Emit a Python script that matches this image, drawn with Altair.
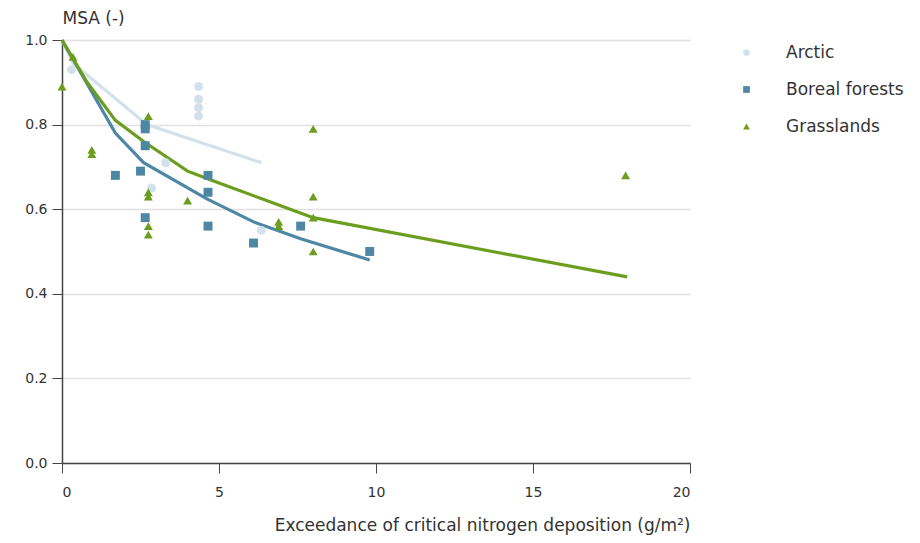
import altair as alt
import pandas as pd

series_names = ["Arctic", "Boreal forests", "Grasslands"]
series_colors = ["#d3e1ec", "#4d87a3", "#6b9e1e"]
series_shapes = ["circle", "square", "triangle-up"]

# scatter observations
arctic_x = [0.3, 4.35, 4.35, 4.35, 4.35, 3.3, 2.85, 6.35]
arctic_y = [0.93, 0.89, 0.86, 0.84, 0.82, 0.71, 0.65, 0.55]

boreal_x = [2.65, 2.65, 2.65, 1.7, 2.5, 2.65, 4.65, 4.65, 4.65, 6.1, 7.6, 9.8]
boreal_y = [0.80, 0.79, 0.75, 0.68, 0.69, 0.58, 0.68, 0.64, 0.56, 0.52, 0.56, 0.50]

grass_x = [0.0, 0.35, 0.95, 0.95, 2.75, 2.75, 2.75, 2.75, 2.75, 4.0, 6.9, 6.9, 8.0, 8.0, 8.0, 8.0, 17.95]
grass_y = [0.89, 0.96, 0.74, 0.73, 0.82, 0.64, 0.63, 0.56, 0.54, 0.62, 0.57, 0.56, 0.79, 0.63, 0.58, 0.50, 0.68]

# fitted curves
arctic_line_x = [0.0, 0.35, 2.7, 6.35]
arctic_line_y = [1.0, 0.945, 0.80, 0.71]

boreal_line_x = [0.0, 1.7, 2.6, 4.6, 6.1, 7.6, 9.8]
boreal_line_y = [1.0, 0.78, 0.71, 0.625, 0.57, 0.53, 0.48]

grass_line_x = [0.0, 0.8, 1.7, 2.6, 4.0, 4.7, 6.9, 8.0, 18.0]
grass_line_y = [1.0, 0.90, 0.81, 0.76, 0.69, 0.67, 0.61, 0.58, 0.44]

pts = pd.concat([
    pd.DataFrame({"x": arctic_x, "y": arctic_y, "s": series_names[0]}),
    pd.DataFrame({"x": boreal_x, "y": boreal_y, "s": series_names[1]}),
    pd.DataFrame({"x": grass_x, "y": grass_y, "s": series_names[2]}),
])
lines = pd.concat([
    pd.DataFrame({"x": arctic_line_x, "y": arctic_line_y, "s": series_names[0], "o": range(len(arctic_line_x))}),
    pd.DataFrame({"x": boreal_line_x, "y": boreal_line_y, "s": series_names[1], "o": range(len(boreal_line_x))}),
    pd.DataFrame({"x": grass_line_x, "y": grass_line_y, "s": series_names[2], "o": range(len(grass_line_x))}),
])

FONT = "DejaVu Sans"

xenc = alt.X("x:Q", scale=alt.Scale(domain=[0, 20], nice=False),
             axis=alt.Axis(values=[0, 5, 10, 15, 20], grid=False,
                           title="Exceedance of critical nitrogen deposition (g/m²)",
                           titleX=628, titleY=62, titleAlign="right", titleBaseline="middle",
                           labelPadding=12))
yenc = alt.Y("y:Q", scale=alt.Scale(domain=[0, 1], nice=False),
             axis=alt.Axis(values=[0, 0.2, 0.4, 0.6, 0.8, 1.0], format=".1f", grid=True,
                           title="MSA (-)", titleAngle=0, titleX=0, titleY=-22,
                           titleAlign="left", titleBaseline="middle", labelPadding=5))

legend = alt.Legend(title=None, orient="none", legendX=676, legendY=4,
                    symbolSize=45, labelFontSize=17, labelOffset=31,
                    rowPadding=19, labelColor="#333333", labelFont=FONT)

line_layer = alt.Chart(lines).mark_line(strokeWidth=3.2).encode(
    x=xenc, y=yenc,
    stroke=alt.Stroke("s:N", scale=alt.Scale(domain=series_names, range=series_colors), legend=None),
    order="o:Q",
    detail="s:N",
)

point_layer = alt.Chart(pts).mark_point(filled=True, opacity=1, size=80).encode(
    x="x:Q", y="y:Q",
    color=alt.Color("s:N", scale=alt.Scale(domain=series_names, range=series_colors), legend=legend),
    shape=alt.Shape("s:N", scale=alt.Scale(domain=series_names, range=series_shapes), legend=legend),
)

chart = alt.layer(line_layer, point_layer).resolve_scale(
    color="independent", shape="independent", stroke="independent"
).resolve_legend(
    color="independent", shape="independent", stroke="independent"
).properties(
    width=628, height=423,
    autosize=alt.AutoSizeParams(type="none"),
    padding={"left": 62, "top": 40, "right": 230, "bottom": 80},
).configure_view(stroke=None).configure_axis(
    labelFont=FONT, titleFont=FONT, labelFontSize=14, titleFontSize=17,
    labelColor="#333333", titleColor="#333333", titleFontWeight="normal",
    domainColor="#444444", tickColor="#444444", tickSize=10, domainWidth=1.5,
    gridColor="#e4dfe4", gridWidth=1.5,
)

chart.save("out.html", embed_options={"renderer": "svg", "actions": False})
